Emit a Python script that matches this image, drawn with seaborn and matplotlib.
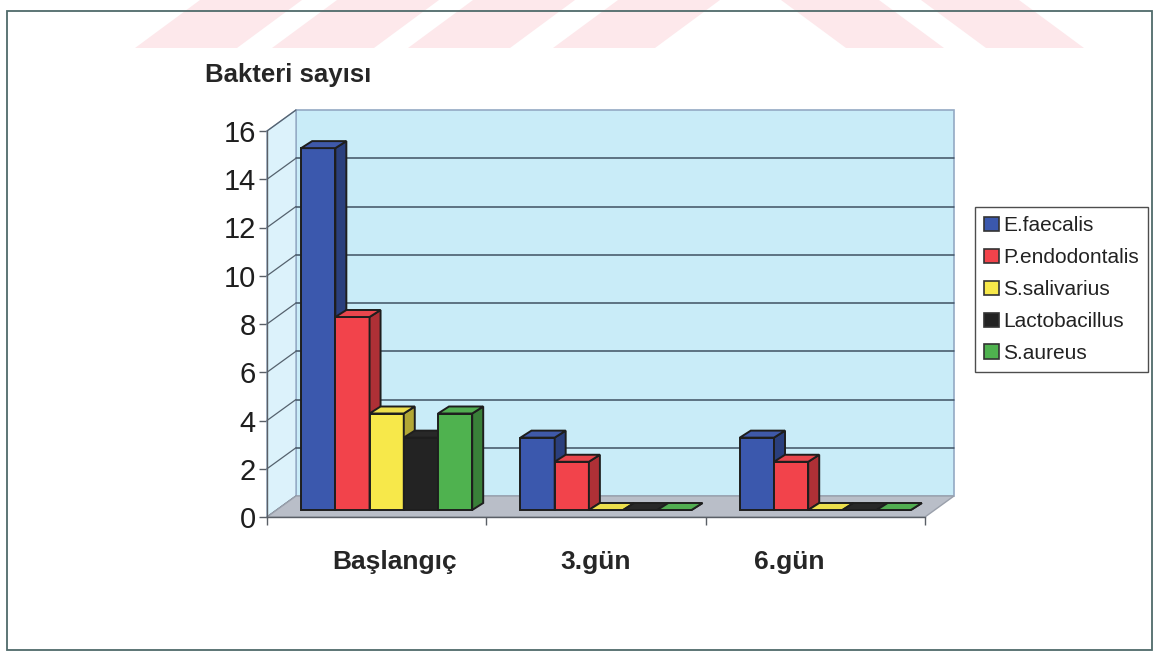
import matplotlib
matplotlib.use("Agg")
import numpy as np
import pandas as pd
import matplotlib.pyplot as plt
import seaborn as sns
from matplotlib.patches import Polygon, Rectangle, Patch
from matplotlib.transforms import offset_copy
from matplotlib.colors import to_rgb

# ---------------- data ----------------
categories = ["Başlangıç", "3.gün", "6.gün"]
species = ["E.faecalis", "P.endodontalis", "S.salivarius", "Lactobacillus", "S.aureus"]
e_faecalis = [15, 3, 3]
p_endodontalis = [8, 2, 2]
s_salivarius = [4, 0, 0]
lactobacillus = [3, 0, 0]
s_aureus = [4, 0, 0]
y_ticks = [0, 2, 4, 6, 8, 10, 12, 14, 16]
title_text = "Bakteri sayısı"

colors = ["#3b58ad", "#f2434b", "#f7e84a", "#232323", "#4fb24f"]

series = [e_faecalis, p_endodontalis, s_salivarius, lactobacillus, s_aureus]
df = pd.DataFrame({
    "Gün": [c for s in series for c in categories],
    "Sayı": [v for s in series for v in s],
    "Tür": [sp for sp, s in zip(species, series) for _ in s],
})

# ---------------- style ----------------
sns.set_style("white")
plt.rcParams["font.family"] = ["Liberation Sans", "DejaVu Sans"]

W, H, DPI = 1159, 657, 100
fig = plt.figure(figsize=(W / DPI, H / DPI), dpi=DPI)
fig.patch.set_facecolor("white")

# watermark stripes (decoration at the top of the page)
def fig_poly(pts, **kw):
    pts = [(x / W, 1 - y / H) for x, y in pts]
    fig.patches.append(Polygon(pts, closed=True, transform=fig.transFigure, **kw))

wm = "#fde8eb"
for xb in [135, 272, 408, 553]:
    fig_poly([(xb, 48), (xb + 102, 48), (xb + 167, 0), (xb + 65, 0)], facecolor=wm, edgecolor="none", zorder=0)
for xt in [781, 921]:
    fig_poly([(xt, 0), (xt + 98, 0), (xt + 163, 48), (xt + 65, 48)], facecolor=wm, edgecolor="none", zorder=0)

# outer frame
fig.patches.append(Rectangle((7 / W, 1 - 650 / H), (1152 - 7) / W, (650 - 11) / H,
                             transform=fig.transFigure, fill=False,
                             edgecolor="#4f6a6a", linewidth=1.3, zorder=1))

# front plane of the 3D box
x0, x1, y0, y1 = 267, 925, 517, 131
ax = fig.add_axes([x0 / W, 1 - y0 / H, (x1 - x0) / W, (y0 - y1) / H])
ax.set_facecolor("none")

sns.barplot(data=df, x="Gün", y="Sayı", hue="Tür", order=categories, hue_order=species,
            palette=colors, width=0.78, saturation=1, dodge=True, ax=ax,
            edgecolor="#1e1e1e", linewidth=1.4, legend=False, errorbar=None)

ax.set_xlim(-0.5, 2.5)
ax.set_ylim(0, 16)

# depth offsets (pixels)
WALL_DX, WALL_DY = 29, 21
BAR_DX, BAR_DY = 10, 7
DEP_DX, DEP_DY = 11, 7

back = offset_copy(ax.transData, fig=fig, x=WALL_DX, y=WALL_DY, units="dots")

xmin, xmax = ax.get_xlim()
ymin, ymax = ax.get_ylim()

# back wall
ax.add_patch(Rectangle((xmin, ymin), xmax - xmin, ymax - ymin, transform=back,
                       facecolor="#c9ecf8", edgecolor="#93a9c4", linewidth=1.2,
                       zorder=0.5, clip_on=False))
for t in y_ticks[1:-1]:
    ax.plot([xmin, xmax], [t, t], transform=back, color="#3f5263", linewidth=1.1,
            zorder=0.6, clip_on=False)

def disp(x, y, dx=0, dy=0):
    px, py = ax.transData.transform((x, y))
    return (px + dx, py + dy)

ident = matplotlib.transforms.IdentityTransform()

# left wall
lw_pts = [disp(xmin, ymin), disp(xmin, ymax), disp(xmin, ymax, WALL_DX, WALL_DY), disp(xmin, ymin, WALL_DX, WALL_DY)]
ax.add_patch(Polygon(lw_pts, closed=True, transform=ident, facecolor="#dcf2fb",
                     edgecolor="#93a9c4", linewidth=1.0, zorder=0.55, clip_on=False))
for t in y_ticks:
    a = disp(xmin, t)
    b = disp(xmin, t, WALL_DX, WALL_DY)
    ax.plot([a[0], b[0]], [a[1], b[1]], transform=ident, color="#55626e",
            linewidth=0.9, zorder=0.6, clip_on=False)

# floor
fl_pts = [disp(xmin, 0), disp(xmax, 0), disp(xmax, 0, WALL_DX, WALL_DY), disp(xmin, 0, WALL_DX, WALL_DY)]
ax.add_patch(Polygon(fl_pts, closed=True, transform=ident, facecolor="#b9bec8",
                     edgecolor="#9aa0ab", linewidth=1.0, zorder=0.7, clip_on=False))

# bars: shift front faces back into the box and add top/side faces
bar_front = offset_copy(ax.transData, fig=fig, x=BAR_DX, y=BAR_DY, units="dots")
bars = [p for p in ax.patches if isinstance(p, Rectangle) and abs(p.get_width() - 0.78 / 5) < 1e-6]
bars.sort(key=lambda p: p.get_x())
for i, p in enumerate(bars):
    z = 3 + i * 0.01
    p.set_transform(bar_front)
    p.set_clip_on(False)
    p.set_zorder(z)
    x, w, h = p.get_x(), p.get_width(), p.get_height()
    c = np.array(to_rgb(p.get_facecolor()))
    top_c = np.clip(c * 0.93 + 0.03, 0, 1)
    side_c = np.clip(c * 0.72, 0, 1)
    ox, oy = BAR_DX, BAR_DY
    top = [disp(x, h, ox, oy), disp(x + w, h, ox, oy),
           disp(x + w, h, ox + DEP_DX, oy + DEP_DY), disp(x, h, ox + DEP_DX, oy + DEP_DY)]
    side = [disp(x + w, 0, ox, oy), disp(x + w, h, ox, oy),
            disp(x + w, h, ox + DEP_DX, oy + DEP_DY), disp(x + w, 0, ox + DEP_DX, oy + DEP_DY)]
    ax.add_patch(Polygon(side, closed=True, transform=ident, facecolor=side_c,
                         edgecolor="#1e1e1e", linewidth=1.4, zorder=z + 0.001, clip_on=False))
    ax.add_patch(Polygon(top, closed=True, transform=ident, facecolor=top_c,
                         edgecolor="#1e1e1e", linewidth=1.4, zorder=z + 0.002, clip_on=False))

# axes, ticks, labels
for s in ["top", "right"]:
    ax.spines[s].set_visible(False)
for s in ["left", "bottom"]:
    ax.spines[s].set_color("#5a5f66")
    ax.spines[s].set_linewidth(1.0)
    ax.spines[s].set_zorder(2.5)

ax.set_yticks(y_ticks)
ax.set_yticklabels([str(t) for t in y_ticks])
ax.tick_params(axis="y", direction="out", length=6, width=1, color="#5a5f66",
               labelsize=21, labelcolor="#1e1e1e", pad=2, left=True)

ax.set_xticks([-0.5, 0.5, 1.5, 2.5])
ax.set_xticklabels(["", "", "", ""])
# category labels sit roughly under the bar groups, as in the original
ax.set_xticks([0.08, 1.0, 1.88], minor=True)
ax.set_xticklabels(categories, minor=True, fontsize=19, fontweight="bold", color="#262626")
ax.tick_params(axis="x", which="major", direction="out", length=6, width=1, color="#5a5f66", bottom=True)
ax.tick_params(axis="x", which="minor", length=0, pad=24)
ax.set_xlabel("")
ax.set_ylabel("")

fig.text(205 / W, 1 - 75 / H, title_text, fontsize=18.5, fontweight="bold",
         color="#262626", va="center", ha="left")

handles = [Patch(facecolor=c, edgecolor="#333333", linewidth=1.2) for c in colors]
fig.legend(handles, species, loc="upper left", bbox_to_anchor=(975 / W, 1 - 207 / H),
           frameon=True, fancybox=False, edgecolor="#222222", fontsize=15,
           handlelength=0.7, handleheight=0.7, handletextpad=0.2, labelspacing=0.62,
           borderpad=0.45, borderaxespad=0)
leg = fig.legends[0]
leg.get_frame().set_linewidth(1.0)
for t in leg.get_texts():
    t.set_color("#222222")

fig.savefig("out.png", dpi=DPI, facecolor="white")
